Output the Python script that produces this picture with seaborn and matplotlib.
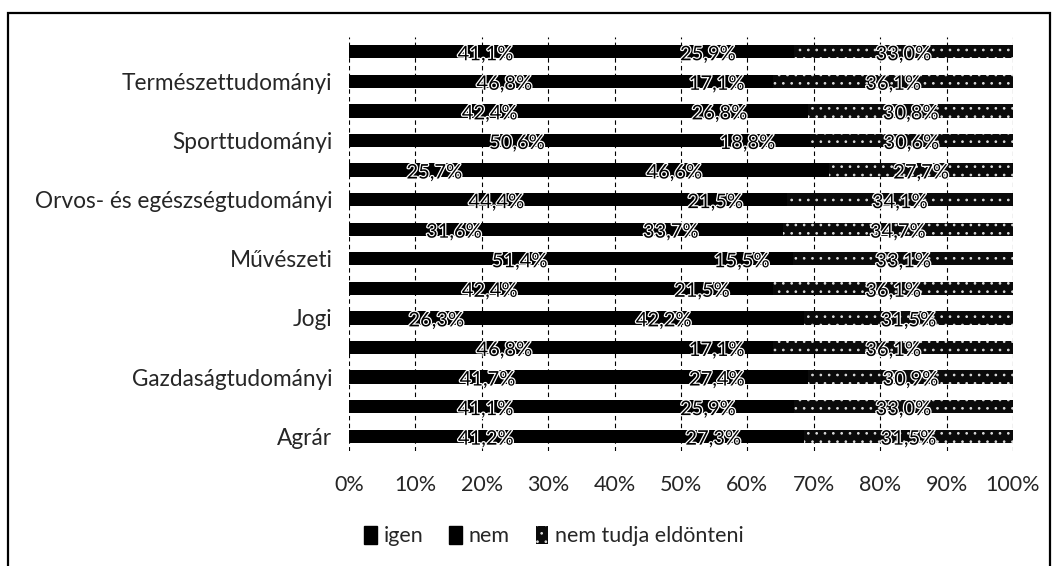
import matplotlib
matplotlib.use("Agg")
import matplotlib.pyplot as plt
import matplotlib.patheffects as pe
from matplotlib.patches import Rectangle, Patch
import seaborn as sns
import pandas as pd
import numpy as np

# categories from bottom (Agrár) to top; only every other one is labelled in the chart
categories = ["Agrár", "Bölcsészettudományi", "Gazdaságtudományi", "Informatikai",
              "Jogi", "Műszaki", "Művészeti", "Művészetközvetítési",
              "Orvos- és egészségtudományi", "Pedagógusképzés", "Sporttudományi",
              "Társadalomtudományi", "Természettudományi", "Összesen"]
igen = [41.2, 41.1, 41.7, 46.8, 26.3, 42.4, 51.4, 31.6, 44.4, 25.7, 50.6, 42.4, 46.8, 41.1]
nem = [27.3, 25.9, 27.4, 17.1, 42.2, 21.5, 15.5, 33.7, 21.5, 46.6, 18.8, 26.8, 17.1, 25.9]
nem_tudja = [31.5, 33.0, 30.9, 36.1, 31.5, 36.1, 33.1, 34.7, 34.1, 27.7, 30.6, 30.8, 36.1, 33.0]
series_names = ["igen", "nem", "nem tudja eldönteni"]
x_ticks = [0, 10, 20, 30, 40, 50, 60, 70, 80, 90, 100]

sns.set_style("white")
plt.rcParams["font.family"] = ["Lato", "DejaVu Sans"]
plt.rcParams["hatch.linewidth"] = 0.7

df = pd.DataFrame({"kat": categories, "igen": igen, "nem": nem, "nt": nem_tudja})
df["c1"] = df["igen"]
df["c2"] = df["igen"] + df["nem"]
df["c3"] = df["c2"] + df["nt"]
order = categories[::-1]

fig = plt.figure(figsize=(10.58, 5.66), dpi=100)
ax = fig.add_axes([349 / 1058, 1 - 451 / 566, (1013 - 349) / 1058, (451 - 37) / 566])

sns.barplot(data=df, y="kat", x="c3", order=order, orient="h", ax=ax,
            color="#0a0a0a", width=0.45, saturation=1, linewidth=0)
for p in ax.patches:
    p.set_hatch("..")
    p.set_edgecolor("#dddddd")
    p.set_linewidth(0)
n3 = len(ax.patches)
sns.barplot(data=df, y="kat", x="c2", order=order, orient="h", ax=ax,
            color="black", width=0.45, saturation=1, linewidth=0)
sns.barplot(data=df, y="kat", x="c1", order=order, orient="h", ax=ax,
            color="black", width=0.45, saturation=1, linewidth=0)
for p in ax.patches[n3:]:
    p.set_linewidth(0)
    p.set_edgecolor("black")

FS = 16.3
# labels
ypos = {c: i for i, c in enumerate(order)}
for _, r in df.iterrows():
    y = ypos[r["kat"]]
    for start, val in [(0, r["igen"]), (r["c1"], r["nem"]), (r["c2"], r["nt"])]:
        ax.text(start + val / 2, y + 0.1, f"{val:.1f}%".replace(".", ","),
                ha="center", va="center", fontsize=14.5, color="black",
                path_effects=[pe.withStroke(linewidth=1.8, foreground="white")])

ax.set_xlim(0, 100)
ax.set_ylim(len(order) - 0.5, -0.5)
ax.set_xticks(x_ticks)
ax.set_xticklabels([f"{t}%" for t in x_ticks], fontsize=15.5)
ax.set_yticks(range(len(order)))
ylabels = [c if (len(order) - 1 - i) % 2 == 0 else "" for i, c in enumerate(order)]
ax.set_yticklabels(ylabels, fontsize=FS)
ax.tick_params(axis="x", length=0, pad=17)
ax.tick_params(axis="y", length=0, pad=12)
ax.set_xlabel("")
ax.set_ylabel("")
ax.set_axisbelow(True)
for x in x_ticks:
    ax.axvline(x, color="black", lw=0.8, ls=(0, (4, 3)), zorder=0.5)
for s in ax.spines.values():
    s.set_visible(False)

handles = [Patch(facecolor="black", edgecolor="black"),
           Patch(facecolor="black", edgecolor="black"),
           Patch(facecolor="#0a0a0a", edgecolor="#dddddd", hatch="..", linewidth=0)]
fig.legend(handles, series_names, loc="center left",
           bbox_to_anchor=(345 / 1058, 1 - 536 / 566), ncol=3, frameon=False,
           fontsize=15.5, handlelength=0.6, handleheight=0.9, handletextpad=0.3,
           columnspacing=1.2)

# outer frame of the scanned chart
fig.patches.append(Rectangle((8 / 1058, -0.05), (1050 - 8) / 1058, 1.05 - 13 / 566,
                             transform=fig.transFigure, fill=False,
                             edgecolor="black", lw=1.6))

fig.savefig("out.png", dpi=100)
